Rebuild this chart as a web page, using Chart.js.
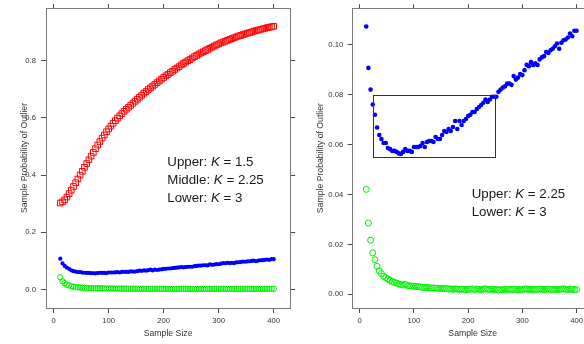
<!DOCTYPE html>
<html><head><meta charset="utf-8">
<script src="https://cdn.jsdelivr.net/npm/chart.js@4"></script>
<style>
html,body{margin:0;padding:0;overflow:hidden;background:#fff;width:584px;height:344px;}
#wrapL{position:absolute;left:0;top:0;width:300px;height:344px;}
#wrapR{position:absolute;left:300px;top:0;width:300px;height:344px;}
</style></head><body>
<div id="wrapL"><canvas id="left" width="300" height="344"></canvas></div>
<div id="wrapR"><canvas id="right" width="300" height="344"></canvas></div>
<script>
// ---- data ----
const sampleSize = [12,16,20,24,28,32,36,40,44,48,52,56,60,64,68,72,76,80,84,88,92,96,100,104,108,112,116,120,124,128,132,136,140,144,148,152,156,160,164,168,172,176,180,184,188,192,196,200,204,208,212,216,220,224,228,232,236,240,244,248,252,256,260,264,268,272,276,280,284,288,292,296,300,304,308,312,316,320,324,328,332,336,340,344,348,352,356,360,364,368,372,376,380,384,388,392,396,400];
const upperProb = [0.302,0.306,0.313,0.323,0.335,0.347,0.360,0.373,0.386,0.400,0.413,0.427,0.440,0.453,0.466,0.479,0.492,0.505,0.517,0.529,0.540,0.551,0.561,0.571,0.581,0.590,0.599,0.607,0.615,0.623,0.630,0.637,0.644,0.651,0.658,0.665,0.672,0.679,0.686,0.692,0.699,0.705,0.711,0.717,0.723,0.729,0.735,0.741,0.747,0.752,0.758,0.763,0.769,0.774,0.779,0.785,0.790,0.795,0.800,0.804,0.809,0.814,0.818,0.823,0.827,0.831,0.835,0.839,0.843,0.847,0.851,0.855,0.858,0.862,0.865,0.868,0.871,0.874,0.877,0.880,0.883,0.886,0.888,0.891,0.893,0.896,0.898,0.900,0.903,0.905,0.907,0.909,0.911,0.913,0.915,0.917,0.918,0.920];
const middleProb = [0.1074,0.0908,0.0821,0.0761,0.0720,0.0669,0.0639,0.0623,0.0607,0.0607,0.0587,0.0582,0.0575,0.0575,0.0571,0.0565,0.0563,0.0571,0.0582,0.0575,0.0575,0.0571,0.0591,0.0591,0.0591,0.0595,0.0607,0.0591,0.0611,0.0615,0.0615,0.0611,0.0631,0.0623,0.0623,0.0639,0.0655,0.0651,0.0663,0.0655,0.0671,0.0695,0.0663,0.0695,0.0679,0.0695,0.0703,0.0715,0.0720,0.0731,0.0731,0.0743,0.0751,0.0759,0.0768,0.0781,0.0771,0.0781,0.0792,0.0792,0.0792,0.0812,0.0821,0.0829,0.0834,0.0845,0.0845,0.0840,0.0875,0.0861,0.0869,0.0883,0.0879,0.0899,0.0920,0.0915,0.0931,0.0920,0.0926,0.0920,0.0942,0.0950,0.0955,0.0972,0.0968,0.0979,0.0985,0.0995,0.1006,0.0985,0.1009,0.1019,0.1022,0.1030,0.1046,0.1035,0.1057,0.1057];
const lowerProb = [0.0421,0.0286,0.0217,0.0166,0.0139,0.0112,0.0094,0.0083,0.0072,0.0067,0.0061,0.0056,0.0051,0.0048,0.0045,0.0041,0.0039,0.0037,0.0040,0.0035,0.0034,0.0033,0.0032,0.0031,0.0031,0.0029,0.0028,0.0027,0.0028,0.0026,0.0025,0.0026,0.0024,0.0025,0.0023,0.0024,0.0022,0.0023,0.0021,0.0022,0.0020,0.0022,0.0021,0.0019,0.0021,0.0020,0.0018,0.0021,0.0020,0.0022,0.0019,0.0021,0.0020,0.0018,0.0021,0.0022,0.0020,0.0019,0.0021,0.0018,0.0020,0.0017,0.0019,0.0018,0.0021,0.0019,0.0020,0.0018,0.0021,0.0019,0.0018,0.0020,0.0019,0.0021,0.0022,0.0019,0.0020,0.0018,0.0020,0.0019,0.0021,0.0020,0.0019,0.0020,0.0021,0.0019,0.0020,0.0018,0.0020,0.0019,0.0021,0.0022,0.0020,0.0019,0.0021,0.0020,0.0018,0.0019];
const xTicks = [0,100,200,300,400];
const leftYTicks = [0.0,0.2,0.4,0.6,0.8];
const rightYTicks = [0.00,0.02,0.04,0.06,0.08,0.10];
const zoomBoxX = [25,250];
const zoomBoxY = [0.055,0.080];
const leftLabels = [['Upper','1.5'],['Middle','2.25'],['Lower','3']];
const rightLabels = [['Upper','2.25'],['Lower','3']];

// ---- styling ----
const FONT = "'Liberation Sans', Arial, Helvetica, sans-serif";
const toXY = (vals) => sampleSize.map((n,i)=>({x:n,y:vals[i]}));

function annotPlugin(cfg){
  return {
    id:'annot'+cfg.id,
    afterDatasetsDraw(chart){
      const ctx = chart.ctx;
      ctx.save();
      if (cfg.box){
        const xs = chart.scales.x, ys = chart.scales.y;
        const x1 = Math.round(xs.getPixelForValue(cfg.box.x[0]))+0.5;
        const x2 = Math.round(xs.getPixelForValue(cfg.box.x[1]))+0.5;
        const y1 = Math.round(ys.getPixelForValue(cfg.box.y[1]))+0.5;
        const y2 = Math.round(ys.getPixelForValue(cfg.box.y[0]))+0.5;
        ctx.strokeStyle='#333'; ctx.lineWidth=1;
        ctx.strokeRect(x1,y1,x2-x1,y2-y1);
      }
      ctx.fillStyle='#1a1a1a';
      ctx.textBaseline='alphabetic';
      ctx.textAlign='left';
      cfg.labels.forEach((lab,i)=>{
        let x = cfg.tx; const y = cfg.ty + i*cfg.lh;
        const parts = [[lab[0]+': ',false],['K',true],[' = '+lab[1],false]];
        parts.forEach(([t,it])=>{
          ctx.font = (it?'italic ':'')+cfg.fs+'px '+FONT;
          ctx.fillText(t,x,y);
          x += ctx.measureText(t).width;
        });
      });
      ctx.restore();
    }
  };
}

function makeChart(id, cfg){
  const setTicks = (vals) => (s) => { s.ticks = vals.map(v=>({value:v})); };
  const fitH = (h) => (s) => { s.height = h; s.paddingLeft=0; s.paddingRight=0; s.paddingTop=0; s.paddingBottom=0; };
  const fitW = (w) => (s) => { s.width = w; s.paddingLeft=0; s.paddingRight=0; s.paddingTop=0; s.paddingBottom=0; };
  const grid = { drawOnChartArea:false, drawTicks:true, tickLength:5, tickColor:'#4a4a4a', tickWidth:1, color:'#4a4a4a' };
  const border = { display:true, color:'#7a7a7a', width:1 };
  const tickFont = { family:FONT, size:7.7 };
  return new Chart(document.getElementById(id), {
    type:'scatter',
    data:{ datasets: cfg.datasets },
    options:{
      responsive:false, animation:false, devicePixelRatio:1,
      events:[],
      layout:{ padding: cfg.padding },
      plugins:{ legend:{display:false}, tooltip:{enabled:false} },
      scales:{
        x:{ type:'linear', position:'bottom', min:cfg.xMin, max:cfg.xMax,
            afterBuildTicks:setTicks(xTicks), afterFit:fitH(36),
            ticks:{ autoSkip:false, maxRotation:0, color:'#333', font:tickFont, padding:3, callback:(v)=>String(v) },
            grid, border,
            title:{ display:true, text:'Sample Size', color:'#333', font:{family:FONT,size:8.7}, padding:{top:0,bottom:5} } },
        x2:{ type:'linear', position:'top', min:cfg.xMin, max:cfg.xMax,
            afterBuildTicks:setTicks(xTicks), afterFit:fitH(5),
            ticks:{ display:false }, grid:{...grid, tickLength:4}, border },
        y:{ type:'linear', position:'left', min:cfg.yMin, max:cfg.yMax,
            afterBuildTicks:setTicks(cfg.yTicks), afterFit:fitW(cfg.yWidth),
            ticks:{ autoSkip:false, color:'#333', font:tickFont, padding:cfg.yPad, callback:(v)=>Number(v).toFixed(cfg.dec) },
            grid, border,
            title:{ display:true, text:'Sample Probability of Outlier', color:'#333', font:{family:FONT,size:8.7}, padding:{top:cfg.titlePad,bottom:0} } },
        y2:{ type:'linear', position:'right', min:cfg.yMin, max:cfg.yMax,
            afterBuildTicks:setTicks(cfg.yTicks), afterFit:fitW(5),
            ticks:{ display:false }, grid, border }
      }
    },
    plugins:[annotPlugin(cfg.annot)]
  });
}

const RED='#ff0000', BLUE='#0000ff', GREEN='#00ee00';

makeChart('left', {
  padding:{left:0, top:3, right:4.8, bottom:0},
  xMin:-14, xMax:430, yMin:-0.065, yMax:0.984, yWidth:46, yPad:5, dec:1, yTicks:leftYTicks, titlePad:19,
  datasets:[
    { data:toXY(upperProb), pointStyle:'rect', pointRadius:4, borderWidth:1, borderColor:RED, backgroundColor:'rgba(0,0,0,0)' },
    { data:toXY(middleProb), pointStyle:'circle', pointRadius:2.1, borderWidth:0, borderColor:BLUE, backgroundColor:BLUE },
    { data:toXY(lowerProb), pointStyle:'circle', pointRadius:2.7, borderWidth:1, borderColor:GREEN, backgroundColor:'rgba(0,0,0,0)' }
  ],
  annot:{ id:'L', labels:leftLabels, tx:167.3, ty:165.5, lh:18, fs:13.3 }
});

makeChart('right', {
  padding:{left:0, top:3.3, right:2.2, bottom:0},
  xMin:-13, xMax:430, yMin:-0.0055, yMax:0.1147, yWidth:52.7, yPad:4.5, dec:2, yTicks:rightYTicks, titlePad:14.9,
  datasets:[
    { data:toXY(middleProb), pointStyle:'circle', pointRadius:2.3, borderWidth:0, borderColor:BLUE, backgroundColor:BLUE },
    { data:toXY(lowerProb), pointStyle:'circle', pointRadius:3, borderWidth:1, borderColor:GREEN, backgroundColor:'rgba(0,0,0,0)' }
  ],
  annot:{ id:'R', labels:rightLabels, tx:171.7, ty:198, lh:17.5, fs:13.3, box:{x:zoomBoxX, y:zoomBoxY} }
});
</script>
</body></html>
